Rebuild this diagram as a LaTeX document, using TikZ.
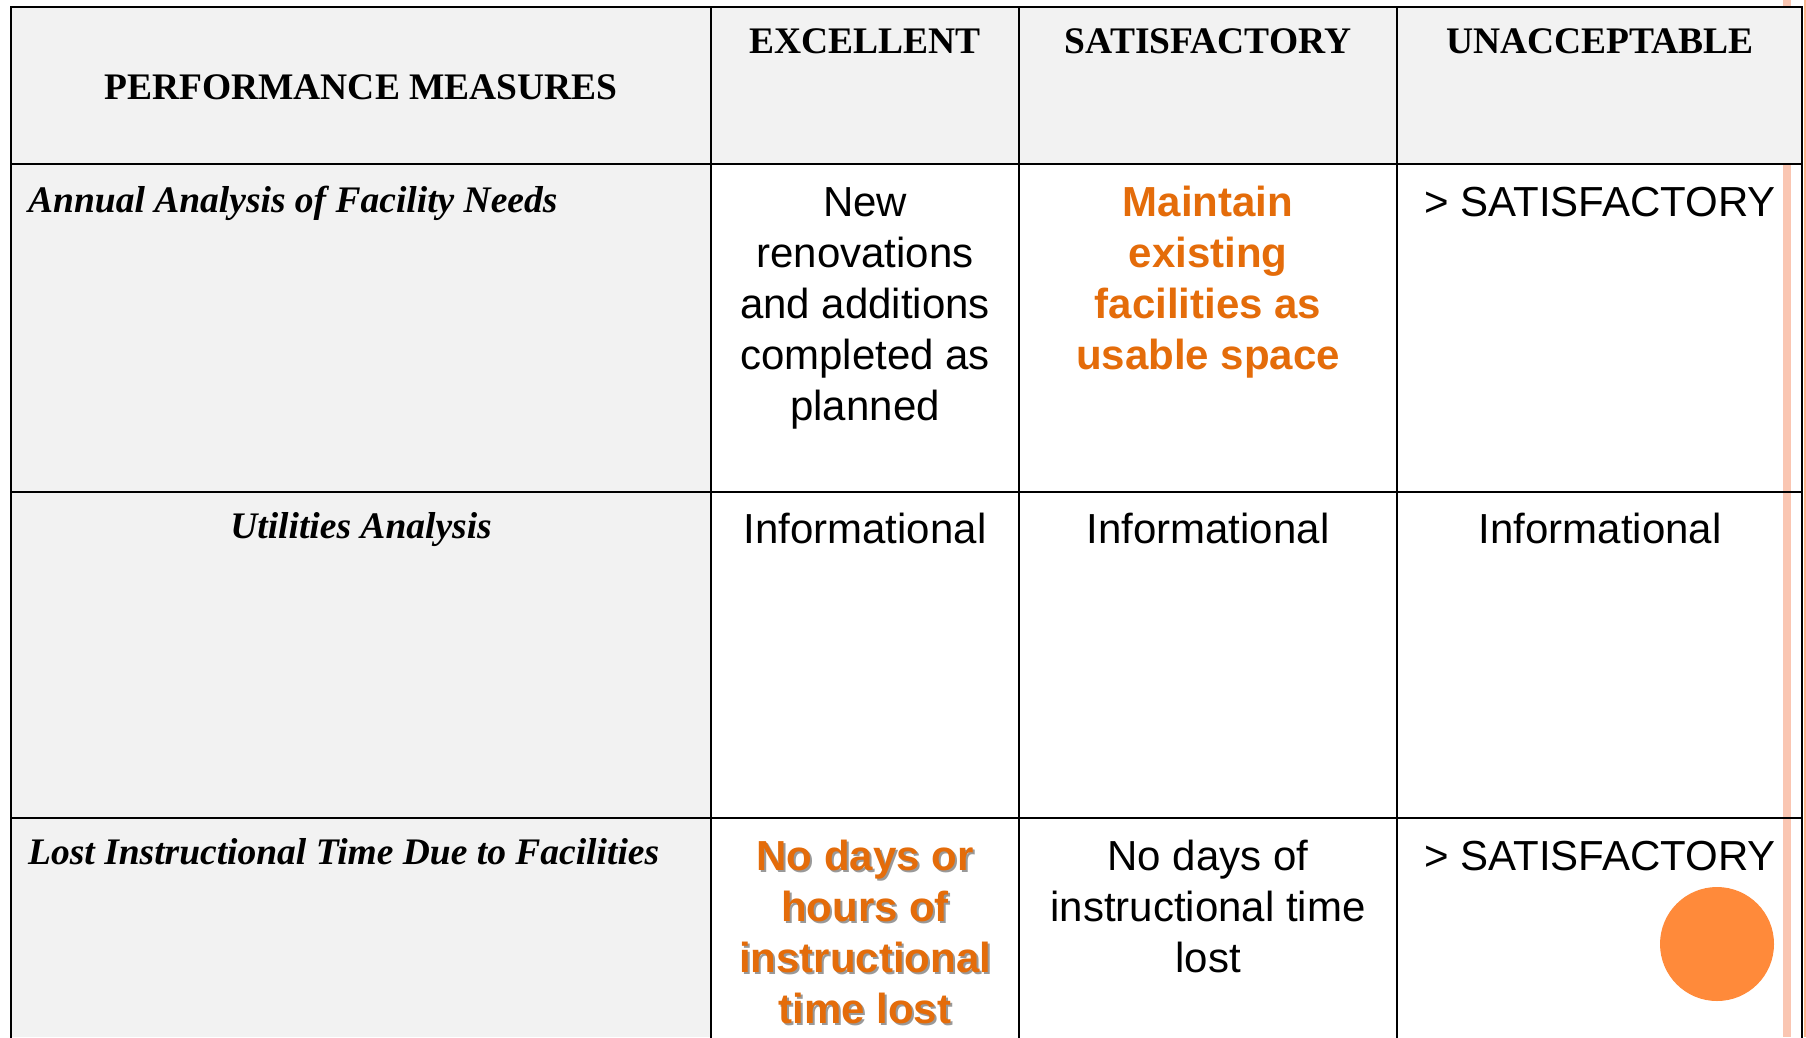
\documentclass[tikz,border=0pt]{standalone}
\usepackage{fontspec}
\setmainfont{Liberation Serif}
\setsansfont{Liberation Sans}
\definecolor{hdrgray}{HTML}{F2F2F2}
\definecolor{txtorange}{HTML}{E46C0A}
\definecolor{dotorange}{HTML}{FF8A3A}
\definecolor{pinkline}{HTML}{FAC6B2}
\tikzset{
  grid/.style={line width=2.6pt, black},
  hdr/.style={font=\fontsize{37.5}{45}\selectfont\bfseries, anchor=base, inner sep=0pt},
  lbl/.style={font=\fontsize{37.5}{45}\selectfont\bfseries\itshape, anchor=base west, inner sep=0pt},
  body/.style={font=\sffamily\fontsize{42}{51}\selectfont, anchor=base, inner sep=0pt},
  hot/.style={body, font=\sffamily\bfseries\fontsize{42}{51}\selectfont, text=txtorange},
  hotshadow/.style={body, font=\sffamily\bfseries\fontsize{42}{51}\selectfont, text=black!40},
}
\begin{document}
\begin{tikzpicture}[x=1pt,y=-1pt]
\useasboundingbox (0,0) rectangle (1806,1037);
\fill[white] (0,0) rectangle (1806,1037);
% decorative lines at the right
\fill[pinkline] (1783,0) rectangle (1791,1037);
\fill[pinkline!70!dotorange] (1804,0) rectangle (1806,1037);
% cell fills
\fill[hdrgray] (11,7) rectangle (1802,164);
\fill[hdrgray] (11,164) rectangle (711,1037);
% grid
\draw[grid] (11,1040) -- (11,7) -- (1802,7) -- (1802,1040);
\foreach \yy in {164,492,818} \draw[grid] (11,\yy) -- (1802,\yy);
\foreach \xx in {711,1019,1397} \draw[grid] (\xx,7) -- (\xx,1040);
% header
\node[hdr] (hpm) at (361,99) {PERFORMANCE MEASURES};
\node[hdr] (hex) at (865,53) {EXCELLENT};
\node[hdr] (hsa) at (1208,53) {SATISFACTORY};
\node[hdr] (hun) at (1600,53) {UNACCEPTABLE};
% row labels
\node[lbl] (r1) at (28,212) {Annual Analysis of Facility Needs};
\node[hdr, font=\fontsize{37.5}{45}\selectfont\bfseries\itshape] (r2) at (361,538) {Utilities Analysis};
\node[lbl] (r3) at (28,864) {Lost Instructional Time Due to Facilities};
% row 1
\foreach \t [count=\i] in {New, renovations, and additions, completed as, planned}
  \node[body] (a\i) at (865,{216+51*(\i-1)}) {\t};
\foreach \t [count=\i] in {Maintain, existing, facilities as, usable space}
  \node[hot] (b\i) at (1208,{216+51*(\i-1)}) {\t};
\node[body] (c1) at (1600,216) {> SATISFACTORY};
% row 2
\node[body] (d1) at (865,543) {Informational};
\node[body] (e1) at (1208,543) {Informational};
\node[body] (f1) at (1600,543) {Informational};
% row 3
\foreach \t [count=\i] in {No days or, hours of, instructional, time lost}
  \node[hotshadow] (gs\i) at (867,{872+51*(\i-1)}) {\t};
\foreach \t [count=\i] in {No days or, hours of, instructional, time lost}
  \node[hot] (g\i) at (865,{870+51*(\i-1)}) {\t};
\foreach \t [count=\i] in {No days of, instructional time, lost}
  \node[body] (h\i) at (1208,{870+51*(\i-1)}) {\t};
\node[body] (k1) at (1600,870) {> SATISFACTORY};
% orange dot
\node[circle, fill=dotorange, minimum size=114pt, inner sep=0pt] (dot) at (1717,944) {};
\end{tikzpicture}
\end{document}
